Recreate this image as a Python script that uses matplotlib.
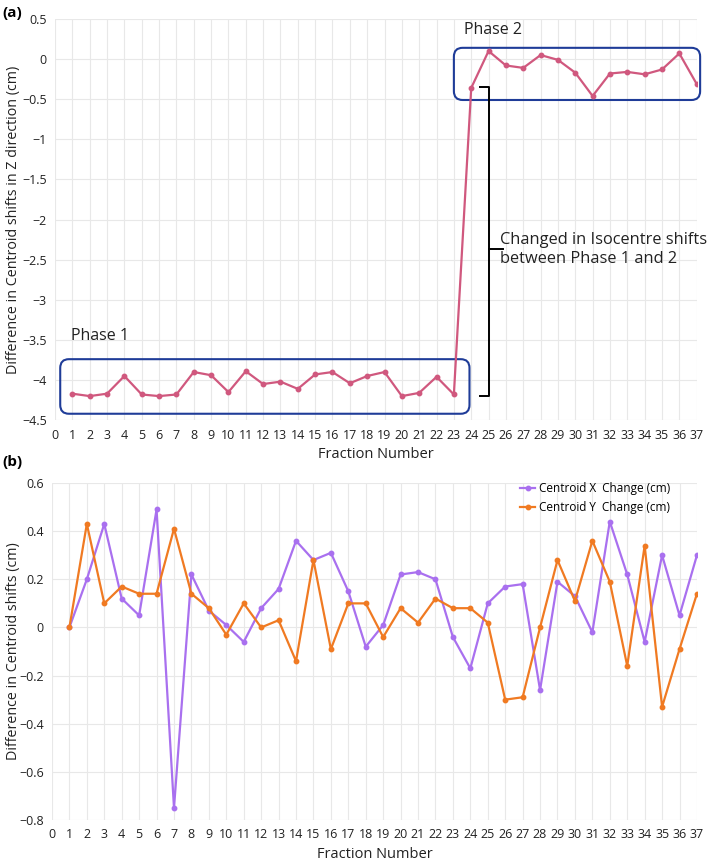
import matplotlib
matplotlib.use("Agg")
import matplotlib.pyplot as plt
from matplotlib.patches import FancyBboxPatch

plt.rcParams['font.family'] = ['Open Sans', 'DejaVu Sans']

fractions = list(range(1, 38))

z_shift = [-4.17, -4.20, -4.17, -3.95, -4.18, -4.20, -4.18, -3.90, -3.94, -4.15,
           -3.89, -4.05, -4.02, -4.11, -3.93, -3.90, -4.04, -3.95, -3.90, -4.20,
           -4.16, -3.96, -4.18, -0.36, 0.10, -0.08, -0.11, 0.05, -0.01, -0.17,
           -0.46, -0.18, -0.16, -0.19, -0.13, 0.07, -0.31]

x_change = [0.00, 0.20, 0.43, 0.12, 0.05, 0.49, -0.75, 0.22, 0.07, 0.01,
            -0.06, 0.08, 0.16, 0.36, 0.28, 0.31, 0.15, -0.08, 0.01, 0.22,
            0.23, 0.20, -0.04, -0.17, 0.10, 0.17, 0.18, -0.26, 0.19, 0.13,
            -0.02, 0.44, 0.22, -0.06, 0.30, 0.05, 0.30]

y_change = [0.00, 0.43, 0.10, 0.17, 0.14, 0.14, 0.41, 0.14, 0.08, -0.03,
            0.10, 0.00, 0.03, -0.14, 0.28, -0.09, 0.10, 0.10, -0.04, 0.08,
            0.02, 0.12, 0.08, 0.08, 0.02, -0.30, -0.29, 0.00, 0.28, 0.11,
            0.36, 0.19, -0.16, 0.34, -0.33, -0.09, 0.14]

z_ticks = [0.5, 0, -0.5, -1, -1.5, -2, -2.5, -3, -3.5, -4, -4.5]
xy_ticks = [0.6, 0.4, 0.2, 0, -0.2, -0.4, -0.6, -0.8]

grid_col = '#e8e8e8'
text_col = '#222222'


def fmt(v):
    return ('%g' % v).replace('-', '\u2212')


def style_axes(ax):
    ax.set_xlim(0, 37)
    ax.set_xticks(range(0, 38))
    ax.grid(True, color=grid_col, linewidth=0.8)
    ax.set_axisbelow(True)
    for s in ax.spines.values():
        s.set_visible(False)
    ax.tick_params(length=0, labelsize=9, colors=text_col, pad=6)
    ax.set_xlabel('Fraction Number', fontsize=10.5, color=text_col, labelpad=4)


fig = plt.figure(figsize=(7.09, 8.61), dpi=100)

# panel (a)
ax1 = fig.add_axes([0.0776, 0.512, 0.905, 0.466])
style_axes(ax1)
ax1.set_ylim(-4.5, 0.5)
ax1.set_yticks(z_ticks)
ax1.set_yticklabels([fmt(v) for v in z_ticks])
ax1.plot(fractions, z_shift, color='#d0587e', linewidth=1.6, marker='o', markersize=3.2)
ax1.set_ylabel('Difference in Centroid shifts in Z direction (cm)', fontsize=10.3,
               color=text_col)
ax1.yaxis.set_label_coords(-0.053, 0.5)

box_col = '#1f3c98'
ax1.add_patch(FancyBboxPatch((0.3, -4.42), 23.6, 0.68, boxstyle='round,pad=0,rounding_size=0.5',
                             mutation_aspect=0.22, fill=False, edgecolor=box_col,
                             linewidth=1.5, clip_on=False))
ax1.add_patch(FancyBboxPatch((23.0, -0.51), 14.2, 0.65, boxstyle='round,pad=0,rounding_size=0.5',
                             mutation_aspect=0.22, fill=False, edgecolor=box_col,
                             linewidth=1.5, clip_on=False))
ax1.text(0.9, -3.45, 'Phase 1', fontsize=11.5, color=text_col, va='center')
ax1.text(23.6, 0.36, 'Phase 2', fontsize=11.5, color=text_col, va='center')

# bracket
bx = 25.05
ax1.plot([24.5, bx, bx, 24.5], [-0.35, -0.35, -4.2, -4.2], color='black', linewidth=1.4)
ax1.plot([bx, bx + 0.8], [-2.37, -2.37], color='black', linewidth=1.4)
ax1.text(bx + 0.6, -2.37, 'Changed in Isocentre shifts\nbetween Phase 1 and 2',
         fontsize=11.8, color=text_col, va='center', linespacing=1.25)

fig.text(0.003, 0.993, '(a)', fontsize=11, fontweight='bold', va='top')

# panel (b)
ax2 = fig.add_axes([0.0733, 0.0476, 0.9097, 0.3914])
style_axes(ax2)
ax2.set_ylim(-0.8, 0.6)
ax2.set_yticks(xy_ticks)
ax2.set_yticklabels([fmt(v) for v in xy_ticks])
ax2.plot(fractions, x_change, color='#a970ef', linewidth=1.6, marker='o', markersize=3.2,
         label='Centroid X  Change (cm)')
ax2.plot(fractions, y_change, color='#f07a22', linewidth=1.6, marker='o', markersize=3.2,
         label='Centroid Y  Change (cm)')
ax2.set_ylabel('Difference in Centroid shifts (cm)', fontsize=10.3, color=text_col)
ax2.yaxis.set_label_coords(-0.048, 0.5)
ax2.legend(loc='upper right', bbox_to_anchor=(0.975, 1.035), frameon=False, fontsize=8.5,
           handlelength=1.3, handletextpad=0.3, labelspacing=0.55)

fig.text(0.003, 0.472, '(b)', fontsize=11, fontweight='bold', va='top')

fig.savefig('out.png', dpi=100)
